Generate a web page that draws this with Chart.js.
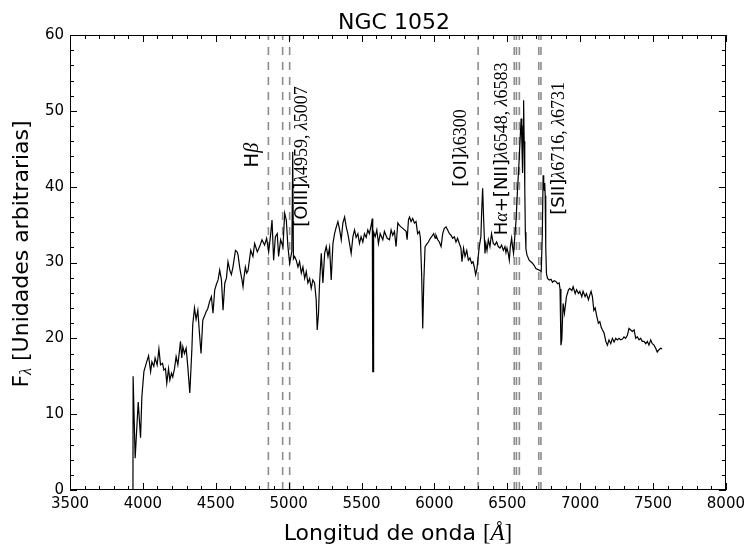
<!DOCTYPE html>
<html><head><meta charset="utf-8">
<script src="https://cdn.jsdelivr.net/npm/chart.js@4.4.1/dist/chart.umd.min.js"></script>
<style>html,body{margin:0;padding:0;background:#fff;}#wrap{width:750px;height:552px;}</style>
</head><body><div id="wrap"><canvas id="c" width="750" height="552"></canvas></div>
<script>
const chartTitle = 'NGC 1052';
const xTickValues = [3500,4000,4500,5000,5500,6000,6500,7000,7500,8000];
const yTickValues = [0,10,20,30,40,50,60];

const wavelength = [
3932,3933,3947,3968,3984,3993,4007,4023,4039,4053,
4062,4075,4084,4098,4110,4121,4135,4144,4155,4164,
4176,4185,4196,4205,4217,4228,4240,4249,4258,4267,
4274,4285,4297,4308,4322,4336,4342,4354,4365,4377,
4388,4399,4411,4422,4434,4445,4457,4470,4481,4493,
4504,4516,4527,4539,4550,4562,4573,4584,4596,4607,
4618,4635,4646,4653,4664,4671,4680,4687,4694,4703,
4712,4721,4740,4755,4767,4785,4801,4817,4835,4849,
4863,4877,4886,4897,4909,4922,4931,4945,4961,4973,
4984,4995,5007,5022,5028,5033,5041,5052,5064,5075,
5087,5098,5110,5121,5132,5144,5155,5166,5178,5189,
5196,5205,5212,5224,5235,5247,5258,5270,5281,5292,
5304,5315,5327,5338,5349,5361,5372,5384,5395,5406,
5418,5429,5441,5452,5463,5475,5486,5497,5509,5520,
5532,5543,5554,5566,5574,5577,5580,5583,5594,5605,
5616,5628,5646,5657,5676,5692,5703,5714,5726,5737,
5749,5760,5771,5783,5795,5806,5813,5822,5829,5840,
5851,5863,5874,5885,5897,5904,5913,5920,5927,5936,
5950,5959,5972,5981,5995,6005,6011,6023,6034,6046,
6057,6068,6080,6091,6103,6114,6125,6137,6148,6159,
6171,6182,6189,6200,6210,6222,6233,6244,6255,6265,
6274,6283,6292,6303,6308,6319,6324,6331,6338,6347,
6353,6361,6370,6381,6392,6404,6415,6427,6438,6450,
6461,6473,6484,6491,6498,6507,6514,6521,6530,6536,
6543,6550,6560,6570,6580,6590,6595,6600,6605,6609,
6612,6616,6620,6624,6628,6635,6650,6662,6673,6685,
6696,6708,6719,6733,6740,6746,6750,6754,6757,6760,
6764,6769,6776,6788,6800,6810,6822,6833,6845,6856,
6862,6868,6874,6883,6892,6906,6920,6929,6943,6952,
6966,6975,6989,6998,7011,7020,7034,7043,7057,7066,
7075,7084,7094,7103,7112,7125,7135,7144,7153,7164,
7176,7187,7198,7210,7221,7233,7244,7255,7267,7278,
7290,7301,7312,7324,7335,7347,7358,7370,7381,7392,
7404,7415,7426,7438,7450,7461,7472,7484,7495,7507,
7518,7529,7541,7552,7563];

const flux = [
0,15.0,4.2,11.6,6.9,12.3,15.6,16.7,17.7,15.6,
16.9,16.3,17.4,16.5,18.6,16.5,16.7,15.8,16.0,14.1,
16.0,14.5,15.4,14.9,16.0,17.6,16.5,18.0,19.6,17.4,
18.9,18.0,18.7,16.3,12.8,18.5,21.8,24.0,22.5,23.7,
20.7,18.0,22.4,22.9,23.5,23.9,24.8,25.5,23.3,26.4,
27.1,27.7,29.0,27.7,23.7,27.3,27.9,30.1,29.0,28.4,
29.4,31.6,31.4,31.0,29.4,28.6,27.7,26.8,28.1,29.4,
28.6,28.9,31.6,30.8,32.5,31.4,32.1,33.0,32.3,33.2,
31.4,33.8,35.6,30.3,33.4,33.8,30.8,33.0,32.1,36.5,
35.6,32.1,29.9,31.5,44.6,30.5,30.8,30.3,29.4,30.1,
28.6,29.4,27.9,28.8,27.3,27.9,26.6,27.7,27.3,25.1,
21.1,23.3,27.3,31.2,27.3,31.2,32.1,30.8,32.0,27.7,
32.5,33.8,34.7,35.4,34.4,33.0,35.2,36.0,34.7,33.8,
32.5,31.2,33.4,34.3,33.3,33.8,32.5,33.4,32.7,33.8,
33.3,34.3,33.8,34.9,35.8,15.6,15.6,34.0,33.4,34.3,
32.5,33.8,33.0,34.1,33.2,33.0,34.3,33.6,34.1,32.1,
35.2,34.9,34.7,34.5,34.3,34.1,33.0,35.6,36.0,35.4,
35.8,35.2,35.4,33.8,34.1,33.2,28.1,21.3,27.3,32.1,
32.5,32.7,33.2,33.4,33.8,33.2,33.6,33.0,32.7,32.1,
33.8,34.5,34.7,34.3,33.8,33.6,33.2,33.4,32.7,33.2,
32.5,31.9,30.1,31.9,30.8,31.6,30.3,30.6,29.9,30.1,
29.4,28.4,29.2,31.2,32.1,33.4,36.5,39.8,35.6,31.2,
32.5,31.6,33.0,32.1,33.8,32.5,32.3,32.7,32.1,31.9,
32.3,31.6,32.1,31.3,31.9,31.2,30.3,32.1,33.2,32.1,
31.2,33.0,35.5,39.5,43.0,47.0,49.0,46.0,41.8,48.0,
51.4,46.0,40.0,34.0,31.8,31.0,30.3,30.1,29.9,29.6,
29.2,29.1,29.0,28.8,33.5,41.5,40.5,39.5,40.5,38.8,
32.0,28.5,27.9,27.7,27.8,27.4,27.6,27.5,27.2,27.3,
26.5,19.1,19.8,24.6,23.3,25.5,26.4,26.6,26.3,26.8,
25.9,26.4,25.9,26.2,25.5,26.2,25.5,25.9,25.1,25.7,
26.2,25.5,23.7,24.0,23.1,22.0,22.2,21.5,21.1,20.7,
19.6,19.1,19.8,19.3,20.0,19.5,20.0,19.8,20.0,19.8,
19.9,20.2,20.0,20.4,21.3,21.1,20.9,21.1,20.0,20.2,
19.8,20.0,19.6,19.6,19.3,19.6,19.1,19.8,19.3,19.1,
18.7,18.2,18.5,18.7,18.6];

// rest-frame line wavelengths marked with dashed lines
const lineWavelengths = [4861, 4959, 5007, 6300, 6548, 6563, 6583, 6716, 6731];

// annotation texts (pieces: [text, style]) and anchor (wavelength, flux where text starts)
const annoPieces = [
  [['H','sans'],['β','serifI']],
  [['[OIII]','sans'],['λ','serifI'],['4959, ','serif'],['λ','serifI'],['5007','serif']],
  [['[OI]','sans'],['λ','serifI'],['6300','serif']],
  [['H','sans'],['α','serifI'],['+[NII]','sans'],['λ','serifI'],['6548, ','serif'],['λ','serifI'],['6583','serif']],
  [['[SII]','sans'],['λ','serifI'],['6716, ','serif'],['λ','serifI'],['6731','serif']]
];
const annoX = [4752, 5096, 6185, 6466, 6856];
const annoY = [42.5, 34.7, 40.0, 33.6, 36.3];

const FS = 18;
function fontFor(kind, size){
  if (kind==='sans') return size+'px "DejaVu Sans"';
  if (kind==='serifI') return 'italic '+size+'px "Liberation Serif"';
  return size+'px "Liberation Serif"';
}
function piecesWidth(ctx, pieces, size){
  let w=0; for (const p of pieces){ ctx.font=fontFor(p[1], p[2]||size); w+=ctx.measureText(p[0]).width; } return w;
}
function drawPieces(ctx, pieces, size, x0, y0){
  let x=x0;
  for (const p of pieces){ ctx.font=fontFor(p[1], p[2]||size); ctx.fillText(p[0], x, y0+(p[3]||0)); x+=ctx.measureText(p[0]).width; }
}

const framePlugin = {
  id:'frame',
  afterDraw(chart){
    const ctx=chart.ctx, a=chart.chartArea, xs=chart.scales.x, ys=chart.scales.y;
    ctx.save();
    ctx.strokeStyle='#000'; ctx.lineWidth=1;
    ctx.strokeRect(Math.round(a.left)+0.5, Math.round(a.top)+0.5, Math.round(a.right-a.left)-1, Math.round(a.bottom-a.top)-1);
    ctx.beginPath();
    for (let v=xs.min; v<=xs.max+1e-6; v+=100){
      const p=Math.round(xs.getPixelForValue(v))+0.5; const L=(v%500===0)?7:4;
      ctx.moveTo(p,a.bottom); ctx.lineTo(p,a.bottom-L);
      ctx.moveTo(p,a.top); ctx.lineTo(p,a.top+L);
    }
    for (let v=ys.min; v<=ys.max+1e-6; v+=2){
      const p=Math.round(ys.getPixelForValue(v))+0.5; const L=(v%10===0)?7:4;
      ctx.moveTo(a.left,p); ctx.lineTo(a.left+L,p);
      ctx.moveTo(a.right,p); ctx.lineTo(a.right-L,p);
    }
    ctx.stroke();

    // annotations (rotated)
    ctx.fillStyle='#000'; ctx.textBaseline='middle'; ctx.textAlign='left';
    annoPieces.forEach((pieces,i)=>{
      const px=xs.getPixelForValue(annoX[i]), py=ys.getPixelForValue(annoY[i]);
      ctx.save(); ctx.translate(px,py); ctx.rotate(-Math.PI/2);
      drawPieces(ctx, pieces, i===0?20:FS, 0, 0);
      ctx.restore();
    });

    // title
    ctx.textAlign='center'; ctx.textBaseline='alphabetic';
    ctx.font='22px "DejaVu Sans"';
    ctx.fillText(chartTitle, (a.left+a.right)/2 - 4, 29);

    // x label
    ctx.textAlign='left';
    const xl=[['Longitud de onda ','sans',22],['[','serif',23],['Å','serifI',23],[']','serif',23]];
    const wx=piecesWidth(ctx, xl, 22);
    drawPieces(ctx, xl, 22, (a.left+a.right)/2 - wx/2, 540);

    // y label
    const yl=[['F','sans',22],['λ','serifI',16,5],[' [Unidades arbitrarias]','sans',22]];
    const wy=piecesWidth(ctx, yl, 22);
    ctx.save(); ctx.translate(22, 254); ctx.rotate(-Math.PI/2);
    ctx.textBaseline='middle';
    drawPieces(ctx, yl, 22, -wy/2, 0);
    ctx.restore();
    ctx.restore();
  }
};

const datasets = lineWavelengths.map(w=>({
  data:[{x:w,y:0},{x:w,y:60}], borderColor:'#8c8c8c', borderWidth:1.6, borderDash:[8,7],
  pointRadius:0, order:2, tension:0
}));
datasets.push({
  data: wavelength.map((w,i)=>({x:w,y:flux[i]})), borderColor:'#000', borderWidth:1.2,
  pointRadius:0, order:1, tension:0
});

new Chart(document.getElementById('c'), {
  type:'line',
  data:{datasets},
  options:{
    responsive:false, animation:false, devicePixelRatio:1,
    layout:{padding:{left:0,right:23,top:35,bottom:0}},
    plugins:{legend:{display:false}, tooltip:{enabled:false}, title:{display:false}},
    scales:{
      x:{type:'linear', min:3500, max:8000,
         grid:{display:false, drawTicks:false}, border:{display:false},
         afterBuildTicks(s){ s.ticks = xTickValues.map(v=>({value:v})); },
         ticks:{color:'#000', font:{family:'DejaVu Sans', size:15}, padding:5, maxRotation:0, autoSkip:false, callback:v=>String(v)},
         afterFit(s){ s.height=62; }},
      y:{type:'linear', min:0, max:60,
         grid:{display:false, drawTicks:false}, border:{display:false},
         afterBuildTicks(s){ s.ticks = yTickValues.map(v=>({value:v})); },
         ticks:{color:'#000', font:{family:'DejaVu Sans', size:15}, padding:6, autoSkip:false, callback:v=>String(v)},
         afterFit(s){ s.width=70; }}
    }
  },
  plugins:[framePlugin]
});
</script></body></html>
